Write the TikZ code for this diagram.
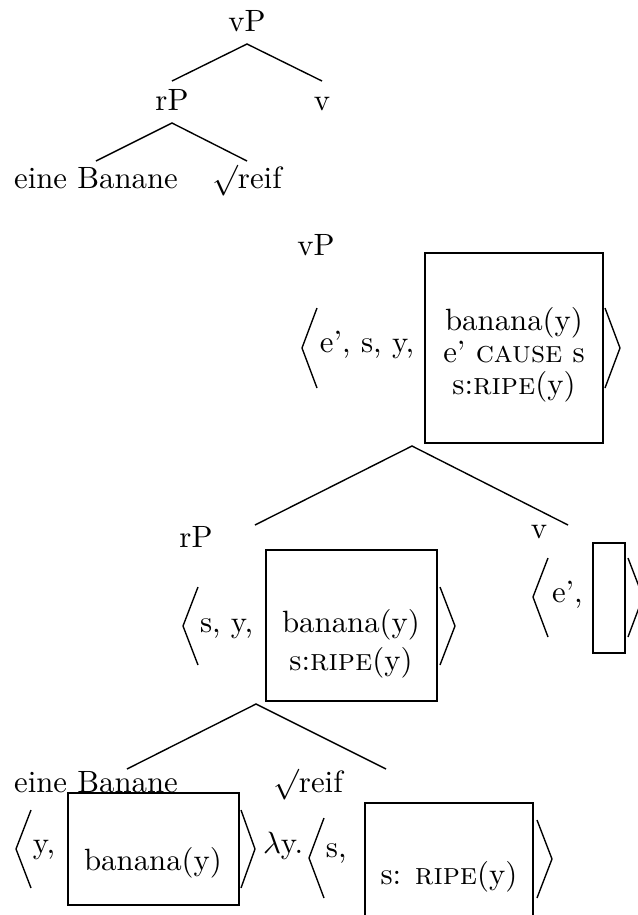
\documentclass[tikz,border=0pt]{standalone}
\begin{document}
\begin{tikzpicture}[x=0.3247pt,y=-0.3247pt,
  lbl/.style={anchor=base, inner sep=0pt, outer sep=0pt},
  lblw/.style={anchor=base west, inner sep=0pt, outer sep=0pt},
  branch/.style={line width=0.45pt},
  brk/.style={line width=0.45pt, line join=miter},
  drs/.style={draw, line width=0.45pt, inner sep=0pt, outer sep=0pt, anchor=north west}]
\useasboundingbox (0,0) rectangle (637,915);

% ---------- top tree ----------
\node[lbl] (tvP) at (247,31) {vP};
\node[lbl] (trP) at (172,110) {rP};
\node[lbl] (tv) at (322,110) {v};
\node[lbl] (teb) at (96,188) {eine Banane};
\node[lbl] (treif) at (247,188) {$\surd$reif};
\coordinate (tvPa) at (247,44);
\coordinate (trPt) at (172,81);
\coordinate (tvt) at (322,81);
\coordinate (trPa) at (172,123);
\coordinate (tebt) at (96,161);
\coordinate (treift) at (247,161);
\draw[branch] (trPt) -- (tvPa) -- (tvt);
\draw[branch] (tebt) -- (trPa) -- (treift);

% ---------- middle tree: vP ----------
\node[lbl] (mvP) at (316,255) {vP};
\draw[brk] (317,308) -- (302,348) -- (317,388);
\node[lblw] (mvPargs) at (320,352) {e’, s, y,};
\node[drs, minimum width=178*0.3247pt, minimum height=190*0.3247pt] (mvPbox) at (425,253) {};
\node[lbl] (mvPl1) at (514,330) {banana(y)};
\node[lbl] (mvPl2) at (514,362) {e’ \textsc{cause} s};
\node[lbl] (mvPl3) at (514,394) {s:\textsc{ripe}(y)};
\draw[brk] (605,308) -- (620,348) -- (605,388);
\coordinate (mvPa) at (412,446);
\coordinate (mrPt) at (255,525);
\coordinate (mvt) at (568,525);
\draw[branch] (mrPt) -- (mvPa) -- (mvt);

% ---------- rP ----------
\node[lbl] (mrP) at (196,547) {rP};
\draw[brk] (198,587) -- (183,626) -- (198,665);
\node[lblw] (mrPargs) at (200,632) {s, y,};
\node[drs, minimum width=171*0.3247pt, minimum height=151*0.3247pt] (mrPbox) at (266,550) {};
\node[lbl] (mrPl1) at (351,632) {banana(y)};
\node[lbl] (mrPl2) at (351,670) {s:\textsc{ripe}(y)};
\draw[brk] (440,587) -- (455,626) -- (440,665);

% ---------- v ----------
\node[lbl] (mv) at (539,538) {v};
\draw[brk] (548,558) -- (533,597) -- (548,637);
\node[lblw] (mvargs) at (552,602) {e’,};
\node[drs, minimum width=32*0.3247pt, minimum height=110*0.3247pt] (mvbox) at (593,543) {};
\draw[brk] (628,558) -- (643,597) -- (628,637);

% ---------- rP branches ----------
\coordinate (mrPa) at (256,704);
\coordinate (mebt) at (127,769);
\coordinate (mreift) at (386,769);
\draw[branch] (mebt) -- (mrPa) -- (mreift);

% ---------- eine Banane ----------
\node[lbl] (meb) at (96,792) {eine Banane};
\draw[brk] (31,810) -- (16,849) -- (31,888);
\node[lblw] (mebargs) at (33,853) {y,};
\node[drs, minimum width=171*0.3247pt, minimum height=112*0.3247pt] (mebbox) at (68,793) {};
\node[lbl] (mebl1) at (153,870) {banana(y)};
\draw[brk] (241,810) -- (255,849) -- (241,888);

% ---------- reif ----------
\node[lbl] (mreif) at (308,792) {$\surd$reif};
\node[lblw] (mlam) at (263,853) {$\lambda$y.};
\draw[brk] (324,818) -- (309,858) -- (324,898);
\node[lblw] (mreifargs) at (326,857) {s,};
\node[drs, minimum width=168*0.3247pt, minimum height=160*0.3247pt] (mreifbox) at (365,803) {};
\node[lbl] (mreifl1) at (449,884) {s: \textsc{ripe}(y)};
\draw[brk] (537,820) -- (552,859) -- (537,898);
\end{tikzpicture}
\end{document}
